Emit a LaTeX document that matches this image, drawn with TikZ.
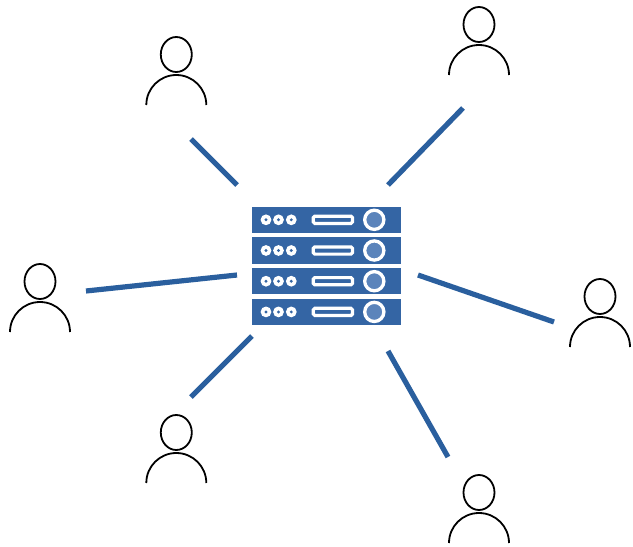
\documentclass[tikz,border=0pt]{standalone}
\definecolor{srv}{HTML}{3465A4}
\definecolor{srvlight}{HTML}{5B84BB}
\definecolor{link}{HTML}{2A5F9E}
\tikzset{
  x=1pt,y=-1pt,
  linkline/.style={draw=link,line width=5.2pt},
  personline/.style={draw=black,line width=1.8pt},
  person/.pic={
    \draw[personline] (0,0.5) ellipse[x radius=15.5,y radius=17.5];
    \draw[personline] (-30,51) arc[start angle=180,end angle=360,x radius=30,y radius=30];
  },
  srvrow/.pic={
    \fill[srv] (-74.5,-13.2) rectangle (74,13.2);
    \foreach \dx in {-60.5,-48,-35.2}{
      \fill[white] (\dx,0) circle[radius=5.4];
      \fill[srv] (\dx,0) circle[radius=1.6];
    }
    \draw[white,line width=3.2pt,rounded corners=1.5pt,fill=srv] (-13.2,-3.6) rectangle (26,3.6);
    \draw[white,line width=3.3pt,fill=srvlight] (47.8,0) circle[radius=9.6];
  }
}
\begin{document}
\begin{tikzpicture}
\useasboundingbox (0,0) rectangle (633,547);
\pic at (176.3,54) {person};
\pic at (479,24) {person};
\pic at (40,281) {person};
\pic at (600,296) {person};
\pic at (176.3,432) {person};
\pic at (479,492) {person};
\pic at (326.5,219.8) {srvrow};
\pic at (326.5,250.5) {srvrow};
\pic at (326.5,281.2) {srvrow};
\pic at (326.5,311.9) {srvrow};
\coordinate (a1) at (191,139); \coordinate (a2) at (237,185);
\coordinate (b1) at (463,108); \coordinate (b2) at (388,185);
\coordinate (c1) at (86,291);  \coordinate (c2) at (237,275);
\coordinate (d1) at (554,322); \coordinate (d2) at (418,275);
\coordinate (e1) at (191,397); \coordinate (e2) at (252,336);
\coordinate (f1) at (448,457); \coordinate (f2) at (388,351);
\foreach \n in {a,b,c,d,e,f}{\draw[linkline] (\n1) -- (\n2);}
\end{tikzpicture}
\end{document}
